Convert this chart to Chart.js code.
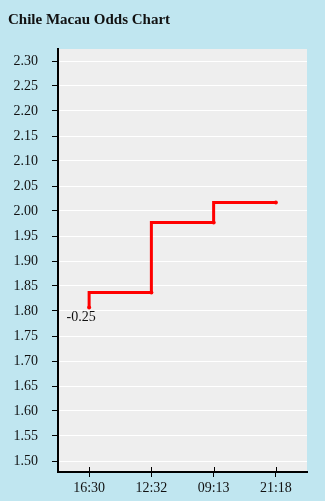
<!DOCTYPE html>
<html>
<head>
<meta charset="utf-8">
<script src="https://cdn.jsdelivr.net/npm/chart.js@4/dist/chart.umd.min.js"></script>
<style>
  html, body { margin: 0; padding: 0; background: #c0e6f0; }
  #wrap { position: relative; width: 325px; height: 501px; }
</style>
</head>
<body>
<div id="wrap"><canvas id="oddsChart"></canvas></div>
<script>
// datos del grafico
const times = ['16:30', '12:32', '09:13', '21:18'];
const odds = [1.807, 1.837, 1.977, 2.017];
const handicaps = ['-0.25', '', '', ''];
const yTicks = [1.50, 1.55, 1.60, 1.65, 1.70, 1.75, 1.80, 1.85, 1.90, 1.95, 2.00, 2.05, 2.10, 2.15, 2.20, 2.25, 2.30];

const serif = '"Liberation Serif", "Times New Roman", serif';

// fondo gris del area del grafico
const plotBg = {
    id: 'plotBg',
    beforeDraw(chart) {
        const { ctx, chartArea: a } = chart;
        ctx.save();
        ctx.fillStyle = '#eeeeee';
        ctx.fillRect(a.left, a.top, a.right - a.left, a.bottom - a.top);
        ctx.restore();
    }
};

// marcas del eje x que cruzan la linea + etiqueta del handicap
const extras = {
    id: 'extras',
    afterDraw(chart) {
        const { ctx, chartArea: a } = chart;
        const x = chart.scales.x;
        ctx.save();
        ctx.strokeStyle = '#000';
        ctx.lineWidth = 1;
        x.ticks.forEach((t, i) => {
            const px = Math.round(x.getPixelForTick(i)) + 0.5;
            ctx.beginPath();
            ctx.moveTo(px, a.bottom - 5);
            ctx.lineTo(px, a.bottom);
            ctx.stroke();
        });
        const meta = chart.getDatasetMeta(0);
        ctx.font = '14px ' + serif;
        ctx.fillStyle = '#111';
        ctx.textAlign = 'center';
        ctx.textBaseline = 'middle';
        meta.data.forEach((pt, i) => {
            if (handicaps[i]) ctx.fillText(handicaps[i], pt.x - 8, pt.y + 10);
        });
        ctx.restore();
    }
};

new Chart(document.getElementById('oddsChart'), {
    type: 'line',
    data: {
        labels: times,
        datasets: [{
            data: odds,
            borderColor: '#ff0000',
            backgroundColor: '#ff0000',
            borderWidth: 3,
            stepped: 'after',
            pointRadius: 2,
            pointBorderWidth: 0,
            fill: false
        }]
    },
    options: {
        responsive: true,
        maintainAspectRatio: false,
        animation: false,
        layout: { padding: { left: 8, right: 18, top: 0, bottom: 0 } },
        plugins: {
            legend: { display: false },
            tooltip: { enabled: false },
            title: {
                display: true,
                text: 'Chile Macau Odds Chart',
                align: 'start',
                color: '#111',
                font: { family: serif, size: 15, weight: 'bold' },
                padding: { top: 11, bottom: 20 }
            }
        },
        scales: {
            x: {
                offset: true,
                afterFit(scale) { scale.height = 29; },
                border: { display: true, color: '#000', width: 2 },
                grid: { display: true, drawOnChartArea: false, tickLength: 5, tickColor: '#000', tickWidth: 1 },
                ticks: { color: '#111', font: { family: serif, size: 14 }, padding: 3, maxRotation: 0 }
            },
            y: {
                min: 1.478,
                max: 2.324,
                afterFit(scale) { scale.width = 50; },
                afterBuildTicks(scale) { scale.ticks = yTicks.map(v => ({ value: v })); },
                border: { display: true, color: '#000', width: 2 },
                grid: { color: '#ffffff', lineWidth: 1, tickLength: 6, tickColor: '#000', tickWidth: 1 },
                ticks: {
                    color: '#111',
                    font: { family: serif, size: 14 },
                    padding: 14,
                    callback: v => v.toFixed(2)
                }
            }
        }
    },
    plugins: [plotBg, extras]
});
</script>
</body>
</html>
